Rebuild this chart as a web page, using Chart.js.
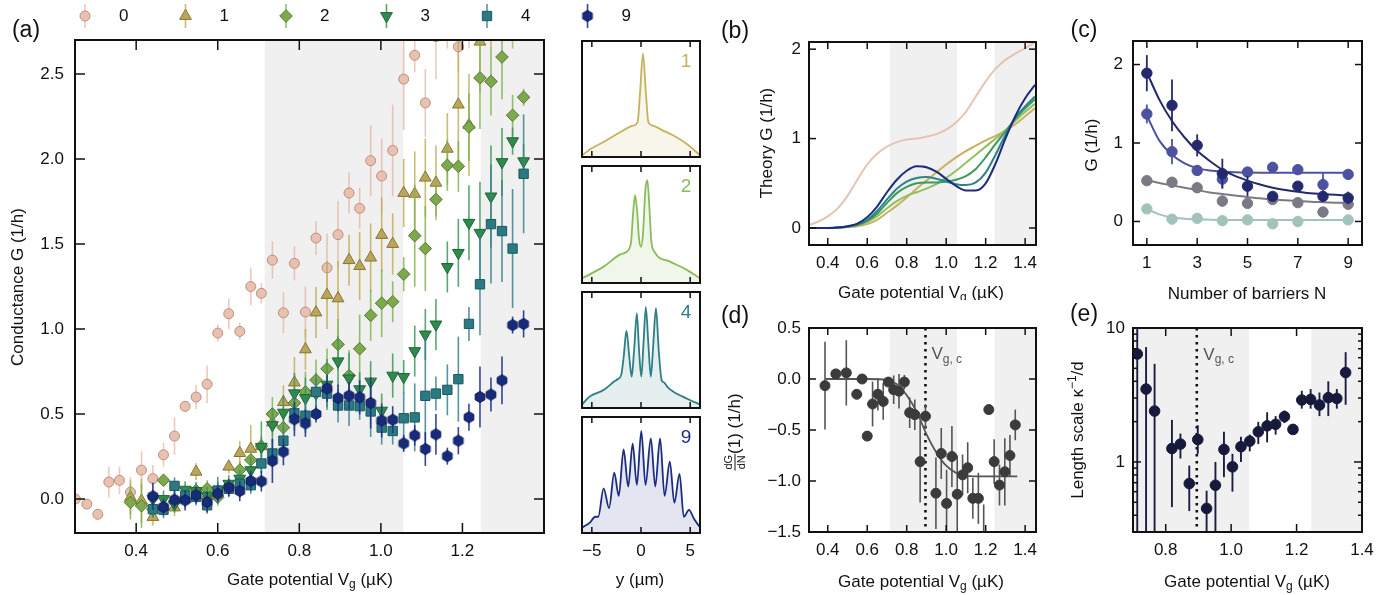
<!DOCTYPE html>
<html>
<head>
<meta charset="utf-8">
<script src="https://cdn.jsdelivr.net/npm/chart.js@4.4.1/dist/chart.umd.min.js"></script>
<style>
  html, body { margin: 0; background: #fff; }
  #wrap { position: relative; width: 1400px; height: 595px; overflow: hidden; background: #fff; }
  canvas { position: absolute; }
</style>
</head>
<body>
<div id="wrap"></div>
<script>
// ---------- (a) measured conductance vs gate potential ----------
const gateX = [0.251,0.279,0.306,0.333,0.359,0.386,0.413,0.441,0.467,0.494,0.520,0.547,0.574,0.600,0.627,0.654,0.681,0.707,0.734,0.761,0.788,0.815,0.841,0.868,0.895,0.922,0.948,0.975,1.002,1.029,1.056,1.083,1.109,1.135,1.163,1.190,1.216,1.243,1.270,1.297,1.323,1.350];
const g0 = [0.00,-0.03,-0.09,0.10,0.11,0.04,0.17,0.12,0.26,0.37,0.545,0.60,0.675,0.976,1.09,0.986,1.25,1.21,1.405,1.095,1.386,1.10,1.535,1.36,1.555,1.80,1.71,1.99,1.90,2.05,2.47,2.61,2.33,2.72,2.85,2.66,2.90,null,null,null,null,null];
const g0Err = [0.02,0.02,0.02,0.09,0.08,0.09,0.11,0.08,0.07,0.11,0.03,0.07,0.11,0.05,0.09,0.05,0.11,0.06,0.11,0.12,0.10,0.15,0.10,0.20,0.20,0.12,0.12,0.21,0.22,0.27,0.30,0.10,0.20,0.25,0.20,0.15,0.25,null,null,null,null,null];
const g1 = [null,null,null,null,null,0.01,-0.01,-0.106,-0.04,-0.05,0.00,0.16,0.02,0.04,0.19,0.27,0.295,0.31,0.45,0.57,0.685,0.88,1.097,1.20,1.18,1.405,1.37,1.42,1.553,1.50,1.80,1.795,1.89,1.86,2.06,2.32,2.20,2.69,2.95,null,2.95,null];
const g1Err = [null,null,null,null,null,0.10,0.13,0.05,0.05,0.05,0.05,0.05,0.05,0.05,0.04,0.07,0.14,0.05,0.08,0.10,0.15,0.12,0.15,0.20,0.22,0.15,0.20,0.20,0.22,0.18,0.20,0.25,0.23,0.22,0.21,0.40,0.30,0.30,0.30,null,0.30,null];
const g2 = [null,null,null,null,null,-0.02,-0.04,-0.06,0.11,-0.02,0.00,0.05,0.06,0.01,0.07,0.17,0.23,0.31,0.50,0.42,0.565,0.63,0.70,0.766,0.909,0.726,0.884,1.08,1.152,1.16,1.322,1.549,1.473,1.762,1.963,1.957,2.188,2.477,2.456,2.60,2.257,2.363];
const g2Err = [null,null,null,null,null,0.10,0.13,0.05,0.03,0.05,0.05,0.05,0.05,0.05,0.05,0.05,0.05,0.06,0.10,0.10,0.10,0.12,0.12,0.12,0.15,0.15,0.20,0.15,0.20,0.12,0.10,0.30,0.25,0.10,0.15,0.15,0.20,0.30,0.20,0.25,0.12,0.05];
const g3 = [null,null,null,null,null,null,null,0.00,0.00,-0.03,0.055,0.047,0.02,0.05,0.09,0.12,0.17,0.307,0.435,0.508,0.622,0.594,0.62,0.673,0.81,0.71,0.646,0.691,0.52,0.726,0.718,0.87,0.968,1.027,1.365,1.448,1.625,1.566,1.78,1.982,2.105,1.987];
const g3Err = [null,null,null,null,null,null,null,0.05,0.05,0.05,0.05,0.05,0.05,0.05,0.05,0.05,0.08,0.15,0.10,0.10,0.12,0.12,0.12,0.15,0.15,0.15,0.10,0.12,0.10,0.13,0.10,0.15,0.15,0.15,0.15,0.20,0.22,0.30,0.30,0.20,0.08,0.10];
const g4 = [null,null,null,null,null,null,null,-0.06,-0.063,0.077,0.02,0.012,-0.037,0.05,0.06,0.09,0.081,0.209,0.268,0.343,0.504,0.49,0.63,0.62,0.55,0.55,0.546,0.515,0.42,0.40,0.475,0.48,0.607,0.62,0.642,0.705,1.03,1.263,1.617,1.576,1.473,1.913];
const g4Err = [null,null,null,null,null,null,null,0.05,0.05,0.05,0.05,0.05,0.05,0.08,0.05,0.05,0.05,0.06,0.08,0.08,0.10,0.10,0.08,0.08,0.10,0.12,0.08,0.15,0.10,0.08,0.15,0.20,0.35,0.10,0.15,0.25,0.10,0.30,0.35,0.30,0.35,0.35];
const g9 = [null,null,null,null,null,null,null,0.016,-0.047,-0.004,-0.008,0.022,-0.018,0.031,0.067,0.047,0.106,0.104,0.224,0.278,0.469,0.445,0.50,0.65,0.594,0.608,0.598,0.565,0.462,0.466,0.327,0.374,0.294,0.38,0.252,0.343,0.481,0.60,0.614,0.698,1.023,1.03];
const g9Err = [null,null,null,null,null,null,null,0.08,0.05,0.05,0.06,0.05,0.06,0.05,0.05,0.06,0.06,0.06,0.13,0.08,0.10,0.08,0.05,0.08,0.08,0.08,0.10,0.15,0.10,0.08,0.05,0.06,0.10,0.12,0.05,0.08,0.08,0.18,0.10,0.14,0.05,0.08];
const aTicksX = [0.4, 0.6, 0.8, 1.0, 1.2];
const aTicksY = [0, 0.5, 1, 1.5, 2, 2.5];
const shadeA = [[0.715, 1.055], [1.245, 1.4]];

// ---------- density profiles (y in µm, normalised density) ----------
const prof1Pos = [-6,-5,-3.8,-2.1,-0.8,-0.35,-0.1,0.2,0.5,0.75,1.2,2.2,3.3,4.7,6];
const prof1Val = [0.015,0.075,0.13,0.215,0.27,0.30,0.55,0.89,0.55,0.30,0.27,0.23,0.185,0.11,0.015];
const prof2Pos = [-6,-3.8,-2.1,-1.25,-1.0,-0.8,-0.6,-0.4,-0.2,0,0.2,0.45,0.65,0.85,1.05,1.35,2.9,4.7,6];
const prof2Val = [0.04,0.14,0.245,0.285,0.36,0.6,0.75,0.62,0.38,0.31,0.42,0.8,0.88,0.65,0.36,0.27,0.185,0.11,0.04];
const prof4Pos = [-6,-5.2,-3.8,-2.7,-2.35,-2.0,-1.75,-1.48,-1.2,-0.95,-0.7,-0.42,-0.2,0.03,0.25,0.49,0.75,1.0,1.25,1.52,1.8,2.1,2.35,2.7,3.3,4.7,6];
const prof4Val = [0.03,0.1,0.155,0.23,0.25,0.29,0.45,0.667,0.45,0.27,0.5,0.815,0.5,0.27,0.55,0.87,0.55,0.27,0.55,0.86,0.5,0.24,0.22,0.18,0.14,0.08,0.03];
const prof9Pos = [-6,-5.2,-4.66,-4.35,-3.8,-3.25,-2.72,-2.26,-1.77,-1.3,-0.85,-0.42,0.03,0.46,1.0,1.45,1.94,2.4,2.93,3.39,3.92,4.35,4.88,5.4,6];
const prof9Val = [0.046,0.09,0.14,0.14,0.385,0.215,0.52,0.32,0.72,0.40,0.77,0.415,0.88,0.415,0.815,0.40,0.815,0.32,0.615,0.26,0.51,0.14,0.2,0.12,0.05];
const profTicks = [-5, 0, 5];

// ---------- (b) theory ----------
const bX = [0.30,0.35,0.40,0.45,0.50,0.55,0.60,0.65,0.70,0.75,0.80,0.85,0.90,0.95,1.00,1.05,1.10,1.15,1.20,1.25,1.30,1.35,1.40,1.45];
const b0 = [0.03,0.07,0.13,0.22,0.36,0.54,0.71,0.83,0.91,0.96,0.99,1.00,1.02,1.05,1.10,1.18,1.30,1.47,1.64,1.78,1.88,1.95,2.01,2.08];
const b1 = [0,0,0,0.003,0.01,0.02,0.045,0.09,0.17,0.25,0.34,0.44,0.53,0.62,0.71,0.79,0.86,0.92,0.98,1.03,1.09,1.16,1.25,1.34];
const b2 = [0,0,0,0.004,0.012,0.03,0.07,0.13,0.22,0.30,0.36,0.40,0.44,0.49,0.56,0.64,0.73,0.82,0.91,1.00,1.09,1.20,1.30,1.39];
const b3 = [0,0,0,0.004,0.014,0.035,0.08,0.16,0.28,0.39,0.46,0.50,0.51,0.51,0.52,0.54,0.58,0.66,0.79,0.94,1.08,1.22,1.34,1.44];
const b4 = [0,0,0,0.005,0.016,0.04,0.09,0.19,0.32,0.44,0.52,0.56,0.57,0.55,0.52,0.49,0.48,0.51,0.62,0.82,1.04,1.23,1.36,1.47];
const b9 = [0,0,0,0.006,0.02,0.05,0.12,0.24,0.40,0.54,0.64,0.69,0.68,0.63,0.55,0.47,0.42,0.42,0.50,0.72,1.00,1.25,1.45,1.60];
const bTicksX = [0.4, 0.6, 0.8, 1.0, 1.2, 1.4];
const bTicksY = [0, 1, 2];

// ---------- (c) G vs number of barriers ----------
const cN = [1,2,3,4,5,6,7,8,9];
const cG1 = [1.89,1.48,0.97,0.61,0.45,0.32,0.45,0.32,0.30];
const cG1Err = [0.23,0.33,0.14,0.19,0.13,0.04,0.04,0.04,0.08];
const cG2 = [1.37,0.89,0.65,0.54,0.63,0.69,0.66,0.47,0.60];
const cG2Err = [0.12,0.16,0.05,0.12,0.04,0.05,0.04,0.14,0.06];
const cG3 = [0.52,0.50,0.43,0.26,0.23,0.28,0.24,0.12,0.22];
const cG3Err = [0.04,0.04,0.06,0.07,0.05,0.04,0.04,0.04,0.07];
const cG4 = [0.16,0.03,0.04,0.01,0.02,-0.03,0.00,null,0.02];
const cG4Err = [0.03,0.03,0.03,0.03,0.03,0.03,0.05,null,0.03];
const fitN = [1,1.5,2,2.5,3,3.5,4,4.5,5,5.5,6,6.5,7,7.5,8,8.5,9];
const fit1 = [1.90,1.55,1.28,1.07,0.90,0.77,0.66,0.58,0.52,0.47,0.43,0.40,0.38,0.36,0.35,0.34,0.33];
const fit2 = [1.35,1.03,0.85,0.74,0.68,0.65,0.635,0.627,0.623,0.621,0.62,0.62,0.62,0.62,0.62,0.62,0.62];
const fit3 = [0.53,0.49,0.46,0.43,0.40,0.37,0.35,0.33,0.31,0.295,0.28,0.27,0.26,0.25,0.245,0.24,0.235];
const fit4 = [0.16,0.09,0.05,0.035,0.027,0.022,0.02,0.02,0.02,0.02,0.02,0.02,0.02,0.02,0.02,0.02,0.02];
const cTicksX = [1, 3, 5, 7, 9];
const cTicksY = [0, 1, 2];

// ---------- (d) dG/dN ----------
const dX = [0.386,0.441,0.494,0.547,0.574,0.600,0.627,0.654,0.681,0.707,0.734,0.761,0.788,0.815,0.841,0.868,0.895,0.948,0.975,1.002,1.029,1.056,1.083,1.109,1.135,1.163,1.190,1.216,1.243,1.270,1.297,1.323,1.350];
const dY = [-0.065,0.05,0.06,-0.15,0.0,-0.56,-0.245,-0.15,-0.22,-0.03,-0.105,-0.12,-0.03,-0.33,-0.35,-0.81,-0.365,-1.12,-0.73,-1.22,-0.76,-1.13,-0.94,-0.87,-1.17,-1.17,-1.7,-0.30,-0.81,-1.04,-0.91,-0.75,-0.45];
const dErr = [0.43,0,0.32,0,0,0,0.22,0.16,0.18,0,0.14,0.17,0.07,0.15,0.15,0.40,0.12,0.35,0.25,0.33,0.30,0.38,0.20,0.25,0.20,0.25,0.47,0,0.22,0.20,0.33,0.20,0.15];
const dFitX = [0.39,0.5,0.6,0.7,0.75,0.8,0.85,0.9,0.95,1.0,1.05,1.1,1.2,1.36];
const dFitY = [0,0,0,-0.01,-0.05,-0.16,-0.32,-0.54,-0.72,-0.85,-0.92,-0.95,-0.955,-0.955];
const dTicksY = [-1.5, -1, -0.5, 0, 0.5];
const vgc = 0.895;

// ---------- (e) length scale ----------
const eX = [0.713,0.740,0.766,0.819,0.845,0.872,0.898,0.925,0.952,0.978,1.004,1.030,1.057,1.083,1.110,1.136,1.163,1.189,1.216,1.243,1.270,1.297,1.323,1.350];
const eY = [6.4,3.5,2.4,1.26,1.36,0.69,1.47,0.45,0.67,1.24,0.92,1.30,1.43,1.68,1.86,1.91,2.18,1.75,2.90,2.93,2.66,3.02,2.98,4.65];
const eLo = [0.1,0.1,0.1,0.46,1.06,0.43,1.15,0.29,0.2,0.77,0.6,1.0,1.2,1.36,1.4,1.6,1.95,1.65,2.5,2.5,2.2,2.2,2.5,2.67];
const eHi = [20,7.2,5.4,2.06,1.63,0.94,1.88,0.61,1.0,1.68,1.15,1.54,1.6,1.99,2.35,2.2,2.42,1.9,3.4,3.5,3.3,4.0,3.5,6.6];
const eTicksX = [0.8, 1.0, 1.2, 1.4];
const eTicksY = [0.3,0.4,0.5,0.6,0.7,0.8,0.9,1,2,3,4,5,6,7,8,9,10];
const eMajor = [1, 10];

// ---------- helpers ----------
const FAM = "'Liberation Sans', Arial, Helvetica, sans-serif";
Chart.defaults.font.family = FAM;
Chart.defaults.font.size = 17;
Chart.defaults.color = '#111';

function mk(left, top, w, h) {
  const c = document.createElement('canvas');
  c.width = w; c.height = h;
  c.style.left = left + 'px'; c.style.top = top + 'px';
  c.style.width = w + 'px'; c.style.height = h + 'px';
  document.getElementById('wrap').appendChild(c);
  return c;
}

const f1 = v => (+v).toFixed(1).replace('-', '\u2212');
const f0 = v => String(Math.round(v)).replace('-', '\u2212');

function axis(min, max, vals, fmt, size, isX, pad, extra) {
  return Object.assign({
    type: 'linear', min, max,
    grid: { display: false, drawTicks: false },
    border: { display: false },
    ticks: { padding: pad, autoSkip: false, maxRotation: 0, callback: fmt },
    afterBuildTicks: s => { s.ticks = vals.map(v => ({ value: v })); },
    afterFit: s => { if (isX) s.height = size; else s.width = size; }
  }, extra || {});
}

function pts(xs, ys, es) {
  const data = [], lo = [], hi = [];
  xs.forEach((x, i) => {
    if (ys[i] == null) return;
    const e = es ? (es[i] || 0) : 0;
    data.push({ x, y: ys[i] }); lo.push(ys[i] - e); hi.push(ys[i] + e);
  });
  return { data, lo, hi };
}
const line = (xs, ys) => xs.map((x, i) => ({ x, y: ys[i] }));

// text with sub/superscripts and a small stacked fraction
function rich(ctx, parts, x, y, o) {
  const size = o.size || 17, small = Math.round(size * 0.72);
  const font = s => s + 'px ' + FAM;
  const segs = parts.map(([t, k]) => {
    if (k === 'frac') {
      const [n, d] = t.split('|');
      ctx.font = font(Math.round(size * 0.62));
      return { n, d, k, w: Math.max(ctx.measureText(n).width, ctx.measureText(d).width) + 2 };
    }
    ctx.font = font(k ? small : size);
    return { t, k, w: ctx.measureText(t).width };
  });
  const total = segs.reduce((a, s) => a + s.w, 0);
  ctx.save();
  ctx.translate(x, y);
  if (o.rot) ctx.rotate(o.rot);
  ctx.fillStyle = o.color || '#111';
  ctx.textBaseline = 'middle';
  let cx = o.align === 'left' ? 0 : -total / 2;
  segs.forEach(s => {
    if (s.k === 'frac') {
      ctx.font = font(Math.round(size * 0.62)); ctx.textAlign = 'center';
      ctx.fillText(s.n, cx + s.w / 2, -size * 0.36);
      ctx.fillText(s.d, cx + s.w / 2, size * 0.4);
      ctx.fillRect(cx, -0.5, s.w, 1);
    } else {
      ctx.font = font(s.k ? small : size); ctx.textAlign = 'left';
      ctx.fillText(s.t, cx, s.k === 'sub' ? size * 0.3 : s.k === 'sup' ? -size * 0.33 : 0);
    }
    cx += s.w;
  });
  ctx.restore();
}

function hexImg(fill, edge, r) {
  const c = document.createElement('canvas');
  const s = Math.ceil(2 * r + 2);
  c.width = c.height = s;
  const g = c.getContext('2d');
  g.beginPath();
  for (let k = 0; k < 6; k++) {
    const a = -Math.PI / 2 + k * Math.PI / 3;
    g.lineTo(s / 2 + r * Math.cos(a), s / 2 + r * Math.sin(a));
  }
  g.closePath(); g.fillStyle = fill; g.fill();
  g.strokeStyle = edge; g.lineWidth = 1; g.stroke();
  return c;
}

// shading, error bars, inward ticks, frame and free text
function deco(cfg) {
  return {
    id: 'deco',
    beforeDatasetsDraw(chart) {
      const { ctx, chartArea: a, scales: { x } } = chart;
      ctx.save();
      (cfg.shade || []).forEach(([s, e]) => {
        const p1 = Math.max(a.left, x.getPixelForValue(s));
        const p2 = Math.min(a.right, x.getPixelForValue(e));
        ctx.fillStyle = '#f0f0f0';
        ctx.fillRect(p1, a.top, p2 - p1, a.bottom - a.top);
      });
      if (cfg.vline != null) {
        const p = x.getPixelForValue(cfg.vline);
        ctx.strokeStyle = '#111'; ctx.lineWidth = 2.6; ctx.setLineDash([2.6, 4.4]);
        ctx.beginPath(); ctx.moveTo(p, a.top); ctx.lineTo(p, a.bottom); ctx.stroke();
      }
      ctx.restore();
    },
    beforeDatasetDraw(chart, args) {
      const ds = chart.data.datasets[args.index];
      if (!ds.lo) return;
      const { ctx, chartArea: a } = chart, y = chart.scales.y;
      ctx.save();
      ctx.beginPath(); ctx.rect(a.left, a.top, a.right - a.left, a.bottom - a.top); ctx.clip();
      ctx.strokeStyle = ds.barColor; ctx.lineWidth = ds.barWidth || 1.6;
      args.meta.data.forEach((el, i) => {
        if (!(ds.hi[i] > ds.lo[i])) return;
        ctx.beginPath();
        ctx.moveTo(el.x, y.getPixelForValue(ds.lo[i]));
        ctx.lineTo(el.x, y.getPixelForValue(ds.hi[i]));
        ctx.stroke();
      });
      ctx.restore();
    },
    afterDraw(chart) {
      const { ctx, chartArea: a, scales: { x, y } } = chart;
      const len = cfg.len || 7;
      const seg = (x1, y1, x2, y2) => { ctx.beginPath(); ctx.moveTo(x1, y1); ctx.lineTo(x2, y2); ctx.stroke(); };
      ctx.save();
      ctx.strokeStyle = '#111'; ctx.lineWidth = 1.5;
      x.ticks.forEach(t => {
        const p = x.getPixelForValue(t.value);
        seg(p, a.bottom, p, a.bottom - len); seg(p, a.top, p, a.top + len);
      });
      if (!cfg.noY) y.ticks.forEach(t => {
        const p = y.getPixelForValue(t.value);
        const l = cfg.majors && !cfg.majors.includes(t.value) ? len / 2 : len;
        seg(a.left, p, a.left + l, p); seg(a.right, p, a.right - l, p);
      });
      ctx.lineWidth = 2;
      ctx.strokeRect(a.left, a.top, a.right - a.left, a.bottom - a.top);
      ctx.restore();
      const ox = chart.canvas.offsetLeft, oy = chart.canvas.offsetTop;
      (cfg.texts || []).forEach(t => {
        const px = t.data ? x.getPixelForValue(t.data[0]) : t.at[0] - ox;
        const py = t.data ? y.getPixelForValue(t.data[1]) : t.at[1] - oy;
        rich(ctx, t.parts, px, py, t);
      });
      if (cfg.extra) cfg.extra(chart, ox, oy);
    }
  };
}

const base = (pad) => ({
  responsive: false, animation: false, events: [],
  layout: { padding: pad },
  plugins: { legend: { display: false }, tooltip: { enabled: false } }
});
const XT = (cx, cy) => ({ at: [cx, cy], parts: [['Gate potential V'], ['g', 'sub'], [' (\u00b5K)']] });

// ---------- (a) ----------
const seriesA = [
  { y: g0, e: g0Err, label: '0', style: 'circle', r: 5, fill: '#e9c1b0', edge: '#bd8f7e', bar: 'rgba(228,172,152,0.65)' },
  { y: g1, e: g1Err, label: '1', style: 'triangle', r: 6.8, fill: '#baa65a', edge: '#877633', bar: 'rgba(190,170,80,0.8)' },
  { y: g2, e: g2Err, label: '2', style: 'rectRot', r: 6.3, fill: '#7ea84c', edge: '#557a2f', bar: 'rgba(130,180,80,0.85)' },
  { y: g3, e: g3Err, label: '3', style: 'triangle', rot: 180, r: 6.8, fill: '#2f8b4d', edge: '#1d6535', bar: 'rgba(60,150,90,0.85)' },
  { y: g4, e: g4Err, label: '4', style: 'rect', r: 6.6, fill: '#2b7a82', edge: '#1b585e', bar: 'rgba(55,130,140,0.85)' },
  { y: g9, e: g9Err, label: '9', style: 'hex', r: 5.6, fill: '#172b7c', edge: '#0d1b55', bar: 'rgba(30,50,140,0.9)' }
];
seriesA.forEach(s => { if (s.style === 'hex') s.img = hexImg(s.fill, s.edge, s.r); });

function legendA(chart, ox, oy) {
  const ctx = chart.ctx;
  seriesA.forEach((s, k) => {
    const mx = 85 + 100.5 * k - ox, my = 16 - oy;
    ctx.save();
    ctx.strokeStyle = s.bar; ctx.lineWidth = 1.6;
    ctx.beginPath(); ctx.moveTo(mx, my - 12); ctx.lineTo(mx, my + 12); ctx.stroke();
    ctx.fillStyle = s.fill; ctx.strokeStyle = s.edge; ctx.lineWidth = 1;
    Chart.helpers.drawPoint(ctx, { pointStyle: s.img || s.style, rotation: s.rot || 0, radius: s.r, borderWidth: 1 }, mx, my);
    ctx.restore();
    rich(ctx, [[s.label]], mx + 34, my, { align: 'left' });
  });
}

new Chart(mk(0, 0, 700, 595), {
  type: 'scatter',
  data: {
    datasets: seriesA.map((s, k) => {
      const p = pts(gateX, s.y, s.e);
      return {
        data: p.data, lo: p.lo, hi: p.hi, barColor: s.bar, barWidth: 1.6, order: 6 - k,
        pointStyle: s.img || s.style, pointRotation: s.rot || 0, pointRadius: s.r,
        pointBackgroundColor: s.fill, pointBorderColor: s.edge, pointBorderWidth: 1
      };
    })
  },
  options: Object.assign(base({ top: 40, right: 156, left: 0, bottom: 0 }), {
    scales: {
      x: axis(0.25, 1.4, aTicksX, f1, 62, true, 8),
      y: axis(-0.2, 2.7, aTicksY, f1, 75, false, 11)
    }
  }),
  plugins: [deco({
    shade: shadeA, len: 10,
    texts: [
      { at: [26, 31], parts: [['(a)']], size: 23 },
      XT(310, 580),
      { at: [18, 287], parts: [['Conductance G (1/h)']], rot: -Math.PI / 2 }
    ],
    extra: legendA
  })]
});

// ---------- density panels ----------
const profiles = [
  { pos: prof1Pos, val: prof1Val, label: '1', color: '#c6b25e', fill: 'rgba(200,180,94,0.13)', top: 41, bottom: 157 },
  { pos: prof2Pos, val: prof2Val, label: '2', color: '#8cbb5a', fill: 'rgba(140,187,90,0.13)', top: 166, bottom: 283 },
  { pos: prof4Pos, val: prof4Val, label: '4', color: '#2d7f86', fill: 'rgba(45,127,134,0.12)', top: 292, bottom: 408 },
  { pos: prof9Pos, val: prof9Val, label: '9', color: '#1b2d80', fill: 'rgba(27,45,128,0.12)', top: 417, bottom: 533 }
];
profiles.forEach((p, k) => {
  const last = k === profiles.length - 1;
  const cTop = p.top - 4;
  const cH = last ? 595 - cTop : p.bottom - p.top + 8;
  new Chart(mk(560, cTop, 160, cH), {
    type: 'line',
    data: { datasets: [{
      data: line(p.pos, p.val), borderColor: p.color, borderWidth: 1.8, backgroundColor: p.fill,
      fill: 'origin', pointRadius: 0, cubicInterpolationMode: 'monotone'
    }] },
    options: Object.assign(base({ top: 4, left: 22, right: 20, bottom: last ? 0 : 4 }), {
      scales: {
        x: axis(-6, 6, profTicks, f0, last ? 62 : 0, true, 8, last ? {} : { ticks: { display: false } }),
        y: { type: 'linear', min: 0, max: 1, display: false }
      }
    }),
    plugins: [deco({
      noY: true, len: 6,
      texts: [{ at: [686, p.top + 21], parts: [[p.label]], size: 19, color: p.color }]
        .concat(last ? [{ at: [640, 580], parts: [['y (\u00b5m)']] }] : [])
    })]
  });
});

// ---------- (b) ----------
const theory = [
  { y: b9, color: '#1c2c7e' }, { y: b4, color: '#2c8488' }, { y: b3, color: '#3e9a5c' },
  { y: b2, color: '#93c05e' }, { y: b1, color: '#c7b25f' }, { y: b0, color: '#e6c4b4' }
];
new Chart(mk(700, 0, 350, 300), {
  type: 'line',
  data: { datasets: theory.map((t, k) => ({
    data: line(bX, t.y), borderColor: t.color, borderWidth: 2, pointRadius: 0,
    cubicInterpolationMode: 'monotone', fill: false, order: k
  })) },
  options: Object.assign(base({ top: 42, right: 14, left: 0, bottom: 0 }), {
    scales: {
      x: axis(0.305, 1.455, bTicksX, f1, 55, true, 8),
      y: axis(-0.19, 2.08, bTicksY, f0, 109, false, 8)
    }
  }),
  plugins: [deco({
    shade: [[0.715, 1.055], [1.245, 1.5]],
    texts: [
      { at: [735, 32], parts: [['(b)']], size: 23 },
      XT(921, 293),
      { at: [767, 143], parts: [['Theory G (1/h)']], rot: -Math.PI / 2 }
    ]
  })]
});

// ---------- (c) ----------
const cSeries = [
  { y: cG1, e: cG1Err, fit: fit1, color: '#23296c' },
  { y: cG2, e: cG2Err, fit: fit2, color: '#4d51a1' },
  { y: cG3, e: cG3Err, fit: fit3, color: '#7a7a85' },
  { y: cG4, e: cG4Err, fit: fit4, color: '#a2c3bc' }
];
const cSets = [];
cSeries.forEach((s, k) => {
  cSets.push({ data: line(fitN, s.fit), showLine: true, pointRadius: 0, borderColor: s.color,
    borderWidth: 2, cubicInterpolationMode: 'monotone', order: 10 + k });
});
cSeries.forEach((s, k) => {
  const p = pts(cN, s.y, s.e);
  cSets.push({ data: p.data, lo: p.lo, hi: p.hi, barColor: s.color, barWidth: 1.8, order: k,
    pointRadius: 5.2, pointBackgroundColor: s.color, pointBorderColor: s.color, pointBorderWidth: 1 });
});
new Chart(mk(1050, 0, 350, 300), {
  type: 'scatter',
  data: { datasets: cSets },
  options: Object.assign(base({ top: 41, right: 38, left: 0, bottom: 0 }), {
    scales: {
      x: axis(0.45, 9.55, cTicksX, f0, 55, true, 8),
      y: axis(-0.3, 2.3, cTicksY, f0, 83, false, 10)
    }
  }),
  plugins: [deco({
    texts: [
      { at: [1084, 31], parts: [['(c)']], size: 23 },
      { at: [1247, 294], parts: [['Number of barriers N']] },
      { at: [1092, 145], parts: [['G (1/h)']], rot: -Math.PI / 2 }
    ]
  })]
});

// ---------- (d) ----------
const dp = pts(dX, dY, dErr);
new Chart(mk(700, 300, 350, 295), {
  type: 'scatter',
  data: { datasets: [
    { data: dp.data, lo: dp.lo, hi: dp.hi, barColor: '#555', barWidth: 1.6, order: 0,
      pointRadius: 5, pointBackgroundColor: '#3b3b3b', pointBorderColor: '#3b3b3b', pointBorderWidth: 1 },
    { data: line(dFitX, dFitY), showLine: true, pointRadius: 0, borderColor: '#555', borderWidth: 1.8,
      cubicInterpolationMode: 'monotone', order: 1 }
  ] },
  options: Object.assign(base({ top: 28, right: 14, left: 0, bottom: 0 }), {
    scales: {
      x: axis(0.305, 1.455, bTicksX, f1, 63, true, 8),
      y: axis(-1.5, 0.5, dTicksY, f1, 109, false, 8)
    }
  }),
  plugins: [deco({
    shade: [[0.715, 1.055], [1.245, 1.5]], vline: vgc,
    texts: [
      { at: [735, 317], parts: [['(d)']], size: 23 },
      XT(921, 582),
      { at: [735, 432], parts: [['dG|dN', 'frac'], ['(1) (1/h)']], rot: -Math.PI / 2 },
      { data: [0.925, 0.24], parts: [['V'], ['g, c', 'sub']], align: 'left', color: '#555' }
    ]
  })]
});

// ---------- (e) ----------
const ep = { data: line(eX, eY), lo: eLo, hi: eHi };
new Chart(mk(1050, 300, 350, 295), {
  type: 'scatter',
  data: { datasets: [
    { data: ep.data, lo: ep.lo, hi: ep.hi, barColor: '#1b1e40', barWidth: 1.9,
      pointRadius: 5.3, pointBackgroundColor: '#171a3c', pointBorderColor: '#171a3c', pointBorderWidth: 1 }
  ] },
  options: Object.assign(base({ top: 28, right: 38, left: 0, bottom: 0 }), {
    scales: {
      x: axis(0.7, 1.4, eTicksX, f1, 63, true, 8),
      y: axis(0.3, 10, eTicksY, v => (eMajor.includes(v) ? String(v) : ''), 83, false, 8, { type: 'logarithmic' })
    }
  }),
  plugins: [deco({
    shade: [[0.6, 1.055], [1.245, 1.5]], vline: vgc, majors: eMajor, len: 8,
    texts: [
      { at: [1084, 315], parts: [['(e)']], size: 23 },
      XT(1247, 582),
      { at: [1078, 430], parts: [['Length scale \u03ba'], ['\u22121', 'sup'], ['/d']], rot: -Math.PI / 2 },
      { data: [0.915, 6.3], parts: [['V'], ['g, c', 'sub']], align: 'left', color: '#555' }
    ]
  })]
});
</script>
</body>
</html>
